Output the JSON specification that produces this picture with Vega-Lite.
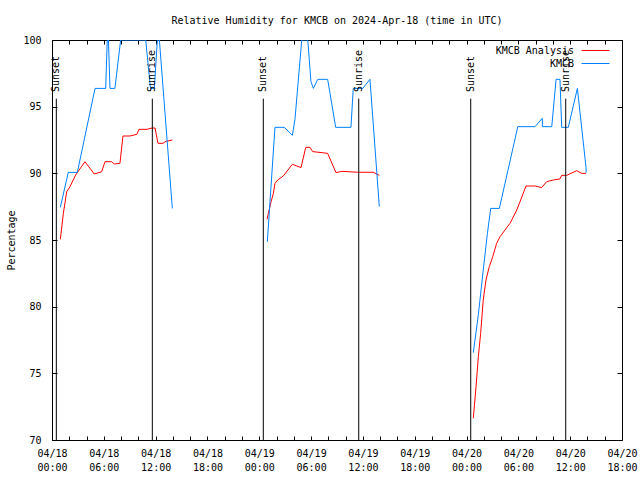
{
  "$schema": "https://vega.github.io/schema/vega-lite/v6.json",
  "width": 570,
  "height": 400,
  "autosize": "none",
  "padding": {"left": 52, "top": 40, "right": 18, "bottom": 40},
  "background": "white",
  "title": {"text": "Relative Humidity for KMCB on 2024-Apr-18 (time in UTC)", "font": "DejaVu Sans Mono", "fontSize": 10, "fontWeight": "normal", "anchor": "middle", "offset": 9, "color": "black"},
  "config": {
    "view": {"stroke": "black", "strokeWidth": 1},
    "font": "DejaVu Sans Mono",
    "axis": {"domain": false, "grid": false, "labelFont": "DejaVu Sans Mono", "labelFontSize": 10, "labelColor": "black", "titleFont": "DejaVu Sans Mono", "titleFontSize": 10, "titleFontWeight": "normal", "titleColor": "black", "tickColor": "black"},
    "legend": {"labelFont": "DejaVu Sans Mono", "labelFontSize": 10, "labelColor": "black"}
  },
  "datasets": {
    "rh": [
      {"series": "KMCB Analysis", "day": 1, "time": "2024-04-18T00:58:00Z", "rh": 85.05},
      {"series": "KMCB Analysis", "day": 1, "time": "2024-04-18T01:19:00Z", "rh": 87.0},
      {"series": "KMCB Analysis", "day": 1, "time": "2024-04-18T01:42:00Z", "rh": 88.62},
      {"series": "KMCB Analysis", "day": 1, "time": "2024-04-18T02:05:00Z", "rh": 89.0},
      {"series": "KMCB Analysis", "day": 1, "time": "2024-04-18T02:44:00Z", "rh": 89.87},
      {"series": "KMCB Analysis", "day": 1, "time": "2024-04-18T03:49:00Z", "rh": 90.87},
      {"series": "KMCB Analysis", "day": 1, "time": "2024-04-18T04:54:00Z", "rh": 89.95},
      {"series": "KMCB Analysis", "day": 1, "time": "2024-04-18T05:45:00Z", "rh": 90.12},
      {"series": "KMCB Analysis", "day": 1, "time": "2024-04-18T06:08:00Z", "rh": 90.87},
      {"series": "KMCB Analysis", "day": 1, "time": "2024-04-18T06:55:00Z", "rh": 90.87},
      {"series": "KMCB Analysis", "day": 1, "time": "2024-04-18T07:13:00Z", "rh": 90.7},
      {"series": "KMCB Analysis", "day": 1, "time": "2024-04-18T07:52:00Z", "rh": 90.75},
      {"series": "KMCB Analysis", "day": 1, "time": "2024-04-18T08:13:00Z", "rh": 92.8},
      {"series": "KMCB Analysis", "day": 1, "time": "2024-04-18T09:02:00Z", "rh": 92.8},
      {"series": "KMCB Analysis", "day": 1, "time": "2024-04-18T09:50:00Z", "rh": 92.93},
      {"series": "KMCB Analysis", "day": 1, "time": "2024-04-18T10:04:00Z", "rh": 93.3},
      {"series": "KMCB Analysis", "day": 1, "time": "2024-04-18T11:00:00Z", "rh": 93.3},
      {"series": "KMCB Analysis", "day": 1, "time": "2024-04-18T11:35:00Z", "rh": 93.4},
      {"series": "KMCB Analysis", "day": 1, "time": "2024-04-18T11:56:00Z", "rh": 93.4},
      {"series": "KMCB Analysis", "day": 1, "time": "2024-04-18T12:16:00Z", "rh": 92.25},
      {"series": "KMCB Analysis", "day": 1, "time": "2024-04-18T12:51:00Z", "rh": 92.25},
      {"series": "KMCB Analysis", "day": 1, "time": "2024-04-18T13:12:00Z", "rh": 92.4},
      {"series": "KMCB Analysis", "day": 1, "time": "2024-04-18T13:56:00Z", "rh": 92.5},
      {"series": "KMCB Analysis", "day": 2, "time": "2024-04-19T00:54:00Z", "rh": 86.55},
      {"series": "KMCB Analysis", "day": 2, "time": "2024-04-19T01:03:00Z", "rh": 87.0},
      {"series": "KMCB Analysis", "day": 2, "time": "2024-04-19T01:22:00Z", "rh": 87.87},
      {"series": "KMCB Analysis", "day": 2, "time": "2024-04-19T01:38:00Z", "rh": 88.5},
      {"series": "KMCB Analysis", "day": 2, "time": "2024-04-19T01:49:00Z", "rh": 89.25},
      {"series": "KMCB Analysis", "day": 2, "time": "2024-04-19T02:08:00Z", "rh": 89.5},
      {"series": "KMCB Analysis", "day": 2, "time": "2024-04-19T02:47:00Z", "rh": 89.8},
      {"series": "KMCB Analysis", "day": 2, "time": "2024-04-19T03:50:00Z", "rh": 90.68},
      {"series": "KMCB Analysis", "day": 2, "time": "2024-04-19T04:50:00Z", "rh": 90.43},
      {"series": "KMCB Analysis", "day": 2, "time": "2024-04-19T05:23:00Z", "rh": 91.95},
      {"series": "KMCB Analysis", "day": 2, "time": "2024-04-19T05:52:00Z", "rh": 91.95},
      {"series": "KMCB Analysis", "day": 2, "time": "2024-04-19T06:11:00Z", "rh": 91.63},
      {"series": "KMCB Analysis", "day": 2, "time": "2024-04-19T07:55:00Z", "rh": 91.5},
      {"series": "KMCB Analysis", "day": 2, "time": "2024-04-19T08:53:00Z", "rh": 90.05},
      {"series": "KMCB Analysis", "day": 2, "time": "2024-04-19T09:33:00Z", "rh": 90.15},
      {"series": "KMCB Analysis", "day": 2, "time": "2024-04-19T11:28:00Z", "rh": 90.08},
      {"series": "KMCB Analysis", "day": 2, "time": "2024-04-19T13:12:00Z", "rh": 90.08},
      {"series": "KMCB Analysis", "day": 2, "time": "2024-04-19T13:54:00Z", "rh": 89.85},
      {"series": "KMCB Analysis", "day": 3, "time": "2024-04-20T00:47:00Z", "rh": 71.63},
      {"series": "KMCB Analysis", "day": 3, "time": "2024-04-20T01:06:00Z", "rh": 74.0},
      {"series": "KMCB Analysis", "day": 3, "time": "2024-04-20T01:22:00Z", "rh": 76.25},
      {"series": "KMCB Analysis", "day": 3, "time": "2024-04-20T01:38:00Z", "rh": 78.0},
      {"series": "KMCB Analysis", "day": 3, "time": "2024-04-20T01:56:00Z", "rh": 80.5},
      {"series": "KMCB Analysis", "day": 3, "time": "2024-04-20T02:15:00Z", "rh": 82.0},
      {"series": "KMCB Analysis", "day": 3, "time": "2024-04-20T02:38:00Z", "rh": 83.0},
      {"series": "KMCB Analysis", "day": 3, "time": "2024-04-20T03:02:00Z", "rh": 83.75},
      {"series": "KMCB Analysis", "day": 3, "time": "2024-04-20T03:29:00Z", "rh": 84.75},
      {"series": "KMCB Analysis", "day": 3, "time": "2024-04-20T03:53:00Z", "rh": 85.25},
      {"series": "KMCB Analysis", "day": 3, "time": "2024-04-20T04:27:00Z", "rh": 85.75},
      {"series": "KMCB Analysis", "day": 3, "time": "2024-04-20T05:02:00Z", "rh": 86.25},
      {"series": "KMCB Analysis", "day": 3, "time": "2024-04-20T05:49:00Z", "rh": 87.25},
      {"series": "KMCB Analysis", "day": 3, "time": "2024-04-20T06:16:00Z", "rh": 88.0},
      {"series": "KMCB Analysis", "day": 3, "time": "2024-04-20T06:53:00Z", "rh": 89.05},
      {"series": "KMCB Analysis", "day": 3, "time": "2024-04-20T07:56:00Z", "rh": 89.05},
      {"series": "KMCB Analysis", "day": 3, "time": "2024-04-20T08:42:00Z", "rh": 88.93},
      {"series": "KMCB Analysis", "day": 3, "time": "2024-04-20T09:17:00Z", "rh": 89.38},
      {"series": "KMCB Analysis", "day": 3, "time": "2024-04-20T10:03:00Z", "rh": 89.5},
      {"series": "KMCB Analysis", "day": 3, "time": "2024-04-20T10:49:00Z", "rh": 89.58},
      {"series": "KMCB Analysis", "day": 3, "time": "2024-04-20T11:01:00Z", "rh": 89.85},
      {"series": "KMCB Analysis", "day": 3, "time": "2024-04-20T11:36:00Z", "rh": 89.85},
      {"series": "KMCB Analysis", "day": 3, "time": "2024-04-20T12:45:00Z", "rh": 90.2},
      {"series": "KMCB Analysis", "day": 3, "time": "2024-04-20T13:20:00Z", "rh": 90.0},
      {"series": "KMCB Analysis", "day": 3, "time": "2024-04-20T13:50:00Z", "rh": 90.0},
      {"series": "KMCB", "day": 1, "time": "2024-04-18T00:58:00Z", "rh": 87.45},
      {"series": "KMCB", "day": 1, "time": "2024-04-18T01:53:00Z", "rh": 90.07},
      {"series": "KMCB", "day": 1, "time": "2024-04-18T02:56:00Z", "rh": 90.07},
      {"series": "KMCB", "day": 1, "time": "2024-04-18T04:59:00Z", "rh": 96.37},
      {"series": "KMCB", "day": 1, "time": "2024-04-18T06:13:00Z", "rh": 96.37},
      {"series": "KMCB", "day": 1, "time": "2024-04-18T06:24:00Z", "rh": 100},
      {"series": "KMCB", "day": 1, "time": "2024-04-18T06:32:00Z", "rh": 100},
      {"series": "KMCB", "day": 1, "time": "2024-04-18T06:43:00Z", "rh": 96.37},
      {"series": "KMCB", "day": 1, "time": "2024-04-18T07:17:00Z", "rh": 96.37},
      {"series": "KMCB", "day": 1, "time": "2024-04-18T07:57:00Z", "rh": 100},
      {"series": "KMCB", "day": 1, "time": "2024-04-18T10:51:00Z", "rh": 100},
      {"series": "KMCB", "day": 1, "time": "2024-04-18T11:24:00Z", "rh": 96.37},
      {"series": "KMCB", "day": 1, "time": "2024-04-18T11:51:00Z", "rh": 96.37},
      {"series": "KMCB", "day": 1, "time": "2024-04-18T12:12:00Z", "rh": 100},
      {"series": "KMCB", "day": 1, "time": "2024-04-18T12:26:00Z", "rh": 100},
      {"series": "KMCB", "day": 1, "time": "2024-04-18T13:56:00Z", "rh": 87.37},
      {"series": "KMCB", "day": 2, "time": "2024-04-19T00:56:00Z", "rh": 84.87},
      {"series": "KMCB", "day": 2, "time": "2024-04-19T01:49:00Z", "rh": 93.45},
      {"series": "KMCB", "day": 2, "time": "2024-04-19T02:54:00Z", "rh": 93.45},
      {"series": "KMCB", "day": 2, "time": "2024-04-19T03:50:00Z", "rh": 92.85},
      {"series": "KMCB", "day": 2, "time": "2024-04-19T04:08:00Z", "rh": 94.05},
      {"series": "KMCB", "day": 2, "time": "2024-04-19T04:55:00Z", "rh": 100},
      {"series": "KMCB", "day": 2, "time": "2024-04-19T05:37:00Z", "rh": 100},
      {"series": "KMCB", "day": 2, "time": "2024-04-19T05:59:00Z", "rh": 96.88},
      {"series": "KMCB", "day": 2, "time": "2024-04-19T06:16:00Z", "rh": 96.37},
      {"series": "KMCB", "day": 2, "time": "2024-04-19T06:46:00Z", "rh": 97.05},
      {"series": "KMCB", "day": 2, "time": "2024-04-19T07:55:00Z", "rh": 97.05},
      {"series": "KMCB", "day": 2, "time": "2024-04-19T08:51:00Z", "rh": 93.45},
      {"series": "KMCB", "day": 2, "time": "2024-04-19T10:37:00Z", "rh": 93.45},
      {"series": "KMCB", "day": 2, "time": "2024-04-19T10:53:00Z", "rh": 96.37},
      {"series": "KMCB", "day": 2, "time": "2024-04-19T11:59:00Z", "rh": 96.37},
      {"series": "KMCB", "day": 2, "time": "2024-04-19T12:49:00Z", "rh": 97.05},
      {"series": "KMCB", "day": 2, "time": "2024-04-19T13:54:00Z", "rh": 87.5},
      {"series": "KMCB", "day": 3, "time": "2024-04-20T00:47:00Z", "rh": 76.55},
      {"series": "KMCB", "day": 3, "time": "2024-04-20T01:22:00Z", "rh": 79.4},
      {"series": "KMCB", "day": 3, "time": "2024-04-20T01:56:00Z", "rh": 82.75},
      {"series": "KMCB", "day": 3, "time": "2024-04-20T02:25:00Z", "rh": 85.5},
      {"series": "KMCB", "day": 3, "time": "2024-04-20T02:48:00Z", "rh": 87.37},
      {"series": "KMCB", "day": 3, "time": "2024-04-20T03:48:00Z", "rh": 87.37},
      {"series": "KMCB", "day": 3, "time": "2024-04-20T05:56:00Z", "rh": 93.5},
      {"series": "KMCB", "day": 3, "time": "2024-04-20T07:56:00Z", "rh": 93.5},
      {"series": "KMCB", "day": 3, "time": "2024-04-20T08:46:00Z", "rh": 94.13},
      {"series": "KMCB", "day": 3, "time": "2024-04-20T08:47:00Z", "rh": 93.5},
      {"series": "KMCB", "day": 3, "time": "2024-04-20T09:52:00Z", "rh": 93.5},
      {"series": "KMCB", "day": 3, "time": "2024-04-20T10:22:00Z", "rh": 97.05},
      {"series": "KMCB", "day": 3, "time": "2024-04-20T10:49:00Z", "rh": 97.05},
      {"series": "KMCB", "day": 3, "time": "2024-04-20T11:01:00Z", "rh": 93.45},
      {"series": "KMCB", "day": 3, "time": "2024-04-20T11:47:00Z", "rh": 93.45},
      {"series": "KMCB", "day": 3, "time": "2024-04-20T12:50:00Z", "rh": 96.37},
      {"series": "KMCB", "day": 3, "time": "2024-04-20T13:50:00Z", "rh": 90.45},
      {"series": "KMCB", "day": 3, "time": "2024-04-20T13:51:00Z", "rh": 90.05}
    ],
    "sun": [
      {"time": "2024-04-18T00:30:00Z", "event": "Sunset"},
      {"time": "2024-04-18T11:37:00Z", "event": "Sunrise"},
      {"time": "2024-04-19T00:28:00Z", "event": "Sunset"},
      {"time": "2024-04-19T11:31:00Z", "event": "Sunrise"},
      {"time": "2024-04-20T00:29:00Z", "event": "Sunset"},
      {"time": "2024-04-20T11:29:00Z", "event": "Sunrise"}
    ]
  },
  "layer": [
    {
      "data": {"name": "rh"},
      "mark": {"type": "line", "strokeWidth": 1, "clip": true},
      "encoding": {
        "x": {"field": "time", "type": "temporal",
          "scale": {"type": "utc", "domain": [1713398400000, 1713636000000]},
          "axis": {"orient": "bottom", "title": null, "values": [1713398400000, 1713405600000, 1713412800000, 1713420000000, 1713427200000, 1713434400000, 1713441600000, 1713448800000, 1713456000000, 1713463200000, 1713470400000, 1713477600000, 1713484800000, 1713492000000, 1713499200000, 1713506400000, 1713513600000, 1713520800000, 1713528000000, 1713535200000, 1713542400000, 1713549600000, 1713556800000, 1713564000000, 1713571200000, 1713578400000, 1713585600000, 1713592800000, 1713600000000, 1713607200000, 1713614400000, 1713621600000, 1713628800000, 1713636000000],
            "labelExpr": "utchours(datum.value) % 6 === 0 ? [utcFormat(datum.value, '%m/%d'), utcFormat(datum.value, '%H:%M')] : ''",
            "labelLineHeight": 14, "labelPadding": 8, "tickSize": 4, "offset": -4, "labelOverlap": false, "labelFlush": false}},
        "y": {"field": "rh", "type": "quantitative",
          "scale": {"domain": [70, 100], "nice": false, "zero": false},
          "axis": {"orient": "left", "title": "Percentage", "values": [70, 75, 80, 85, 90, 95, 100], "tickSize": 5, "offset": -5, "labelPadding": 11, "titlePadding": 6}},
        "color": {"field": "series", "type": "nominal", "scale": {"domain": ["KMCB Analysis", "KMCB"], "range": ["#ff0000", "#0080ff"]},
          "legend": {"title": null, "orient": "none", "legendX": 536, "legendY": 3, "padding": 0, "symbolType": "M-2,0L2,0", "symbolSize": 196, "symbolStrokeWidth": 1, "labelAlign": "right", "labelOffset": -29, "rowPadding": 0}},
        "detail": {"field": "day", "type": "nominal"}
      }
    },
    {
      "data": {"name": "sun"},
      "mark": {"type": "rule", "color": "black", "strokeWidth": 1},
      "encoding": {
        "x": {"field": "time", "type": "temporal",
          "axis": {"orient": "top", "title": null, "labels": false, "values": [1713398400000, 1713405600000, 1713412800000, 1713420000000, 1713427200000, 1713434400000, 1713441600000, 1713448800000, 1713456000000, 1713463200000, 1713470400000, 1713477600000, 1713484800000, 1713492000000, 1713499200000, 1713506400000, 1713513600000, 1713520800000, 1713528000000, 1713535200000, 1713542400000, 1713549600000, 1713556800000, 1713564000000, 1713571200000, 1713578400000, 1713585600000, 1713592800000, 1713600000000, 1713607200000, 1713614400000, 1713621600000, 1713628800000, 1713636000000], "tickSize": 4, "offset": -4}},
        "y": {"datum": 95.6, "type": "quantitative",
          "axis": {"orient": "right", "title": null, "labels": false, "values": [70, 75, 80, 85, 90, 95, 100], "tickSize": 5, "offset": -5}},
        "y2": {"datum": 70}
      }
    },
    {
      "data": {"name": "sun"},
      "mark": {"type": "text", "angle": 270, "align": "left", "baseline": "middle", "font": "DejaVu Sans Mono", "fontSize": 10, "color": "black"},
      "encoding": {
        "x": {"field": "time", "type": "temporal", "axis": null},
        "y": {"datum": 96.1, "type": "quantitative", "axis": null},
        "text": {"field": "event", "type": "nominal"}
      }
    }
  ],
  "resolve": {"axis": {"x": "independent", "y": "independent"}}
}
